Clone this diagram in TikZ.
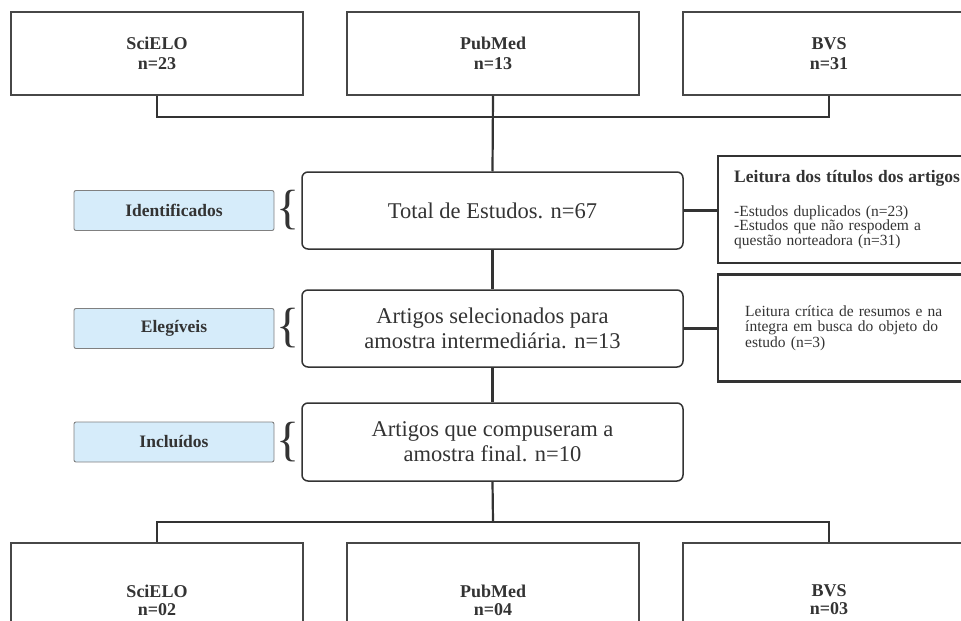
\documentclass[tikz,border=0pt]{standalone}
\usepackage{fontspec}
\setmainfont{Liberation Serif}
\usepackage{xcolor}
\usepackage{tikz}
\usetikzlibrary{positioning, calc}

\definecolor{tagblue}{HTML}{D6ECFA}
\definecolor{ink}{HTML}{333333}

\begin{document}
\begin{tikzpicture}[x=1pt, y=-1pt,
  db/.style={rectangle, draw=ink!90, line width=1.5pt, fill=white,
             minimum width=292pt, minimum height=83pt, align=center,
             font=\fontsize{18}{20}\selectfont\bfseries, text=ink},
  stage/.style={rectangle, draw=ink, line width=1.5pt, rounded corners=6pt,
                minimum width=381pt, minimum height=77pt, align=center,
                font=\fontsize{22.5}{25}\selectfont, text=ink},
  tag/.style={rectangle, draw=gray, line width=0.9pt, rounded corners=2pt,
              fill=tagblue, minimum width=200pt, minimum height=40pt,
              font=\fontsize{17.5}{20}\selectfont\bfseries, text=ink},
  brc/.style={font=\fontsize{48}{48}\selectfont, text=ink, inner sep=0pt},
  note/.style={rectangle, draw=ink, line width=2.4pt, anchor=west,
               align=left, minimum height=107pt, text width=240pt,
               font=\fontsize{15.5}{14.5}\selectfont, text=ink},
  link/.style={draw=ink, line width=2.2pt}
]
\useasboundingbox (0,0) rectangle (961,621);

% bases de dados (busca)
\foreach \nm/\x/\lbl in {scitop/157/{SciELO\\n=23}, pubtop/493/{PubMed\\n=13},
                         bvstop/829/{BVS\\n=31}}{
  \node[db] (\nm) at (\x, 53.5) {\lbl};
}

% etapas
\node[stage] (total) at (492.5, 210.5) {Total de Estudos. n=67};
\node[stage] (elig) at (492.5, 328.5) {Artigos selecionados para\\amostra intermediária. n=13};
\node[stage, minimum height=78pt] (incl) at (492.5, 442) {Artigos que compuseram a\\amostra final. n=10};

\foreach \nm/\y/\lbl in {tagid/210.5/Identificados, tagel/328.5/Elegíveis,
                         taginc/442/Incluídos}{
  \node[tag] (\nm) at (174, \y) {\lbl};
  \node[brc] (\nm br) at (288, \y) {\{};
}

% exclusoes
\node[note, inner xsep=16pt] (readtitles) at (717, 209.5)
  {{\bfseries\fontsize{17.5}{20}\selectfont Leitura dos títulos dos artigos}\\[18pt]
   -Estudos duplicados (n=23)\\
   -Estudos que não respodem a\\
   questão norteadora (n=31)};
\node[note, inner xsep=27pt, text width=230pt, font=\fontsize{15.5}{15.5}\selectfont]
  (readcrit) at (717, 328)
  {Leitura crítica de resumos e na\\
   íntegra em busca do objeto do\\
   estudo (n=3)};

% bases de dados (amostra final)
\foreach \nm/\x/\lbl in {scibot/157/{SciELO\\n=02}, pubbot/493/{PubMed\\n=04},
                         bvsbot/829/{BVS\\n=03}}{
  \node[db, minimum height=114pt, font=\fontsize{18}{18}\selectfont\bfseries]
    (\nm) at (\x, 600) {\lbl};
}

\coordinate (topbar) at (493, 117);
\coordinate (botbar) at (493, 522);
\draw[link] (scitop.south) |- (topbar) -| (bvstop.south);
\draw[link] (pubtop.south) -- (total.north);
\draw[link] (total.south) -- (elig.north);
\draw[link] (elig.south) -- (incl.north);
\draw[link] (total.east) -- (total.east -| readtitles.west);
\draw[link] (elig.east) -- (elig.east -| readcrit.west);
\draw[link] (incl.south) -- (botbar);
\draw[link] (scibot.north) |- (botbar) -| (bvsbot.north);
\end{tikzpicture}
\end{document}
